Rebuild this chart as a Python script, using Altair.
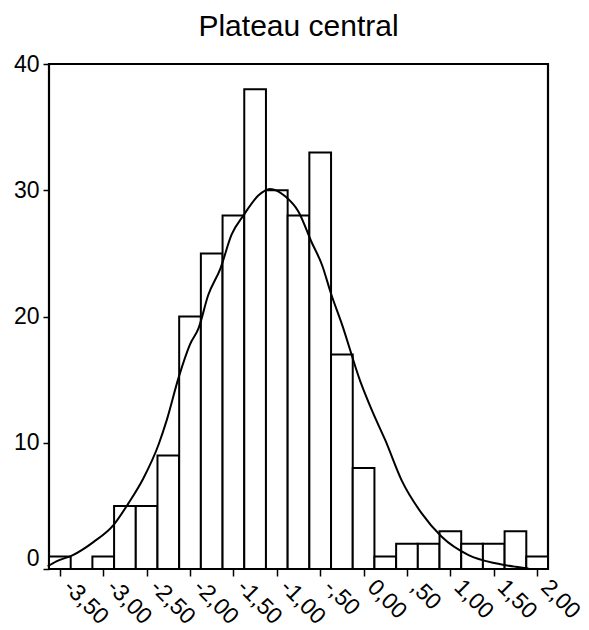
import altair as alt
import pandas as pd

# Histogram bins (centres) and counts
bin_centers = [-3.5, -3.25, -3.0, -2.75, -2.5, -2.25, -2.0, -1.75, -1.5, -1.25, -1.0,
               -0.75, -0.5, -0.25, 0.0, 0.25, 0.5, 0.75, 1.0, 1.25, 1.5, 1.75, 2.0]
counts = [1, 0, 1, 5, 5, 9, 20, 25, 28, 38, 30, 28, 33, 17, 8, 1, 2, 2, 3, 2, 2, 3, 1]
bin_width = 0.25

# Normal curve points
curve_x = [-3.64, -3.54, -3.35, -3.11, -2.88, -2.71, -2.54, -2.36, -2.27, -2.13, -2.0,
           -1.90, -1.79, -1.65, -1.52, -1.38, -1.21, -1.08, -0.90, -0.75, -0.60, -0.48,
           -0.37, -0.25, -0.04, 0.10, 0.25, 0.44, 0.67, 0.90, 1.21, 1.52, 1.75, 1.90]
curve_y = [0.2, 0.6, 1.1, 2.15, 3.5, 5.2, 7.15, 9.9, 11.75, 15.2, 17.8,
           19.1, 21.7, 23.8, 26.5, 28.05, 29.6, 30.1, 29.5, 28.3, 25.9, 24.1,
           21.7, 19.4, 14.9, 12.5, 10.2, 7.0, 4.4, 2.55, 1.1, 0.45, 0.18, 0.05]

x_tick_values = [-3.5, -3.0, -2.5, -2.0, -1.5, -1.0, -0.5, 0.0, 0.5, 1.0, 1.5, 2.0]
x_tick_labels = ["-3,50", "-3,00", "-2,50", "-2,00", "-1,50", "-1,00", "-,50", "0,00",
                 ",50", "1,00", "1,50", "2,00"]
y_tick_values = [0, 10, 20, 30, 40]

FONT = "Liberation Sans"

bars_df = pd.DataFrame({"center": bin_centers, "count": counts})
bars_df["start"] = bars_df["center"] - bin_width / 2
bars_df["end"] = bars_df["center"] + bin_width / 2
curve_df = pd.DataFrame({"x": curve_x, "y": curve_y})

label_expr = ""
for v, lab in zip(x_tick_values, x_tick_labels):
    label_expr += f"abs(datum.value - ({v})) < 0.001 ? '{lab}' : "
label_expr += "''"

x_scale = alt.Scale(domain=[-3.625, 2.125], nice=False, zero=False)
y_scale = alt.Scale(domain=[0, 40], nice=False)

x_axis = alt.Axis(values=x_tick_values, labelExpr=label_expr, title=None, grid=False,
                  domain=False, tickSize=7, tickWidth=1.5, tickColor="black",
                  labelAngle=45, labelAlign="left", labelBaseline="middle",
                  labelOverlap=False, labelBound=False, labelFlush=False,
                  labelOffset=7, labelPadding=7,
                  labelFont=FONT, labelFontSize=23, labelColor="black")
y_axis = alt.Axis(values=y_tick_values, title=None, grid=False, domain=False,
                  tickSize=6, tickWidth=1.5, tickColor="black", labelPadding=4,
                  labelOverlap=False, labelFlush=False,
                  labelFont=FONT, labelFontSize=23, labelColor="black",
                  labelOffset={"condition": {"test": "datum.value == 0", "value": -11}, "value": 0})

bars = alt.Chart(bars_df).mark_rect(fill="white", stroke="black", strokeWidth=2).encode(
    x=alt.X("start:Q", scale=x_scale, axis=x_axis),
    x2="end:Q",
    y=alt.Y("count:Q", scale=y_scale, axis=y_axis),
    y2=alt.datum(0),
)

curve = alt.Chart(curve_df).mark_line(color="black", strokeWidth=2, interpolate="monotone").encode(
    x=alt.X("x:Q", scale=x_scale),
    y=alt.Y("y:Q", scale=y_scale),
)

chart = alt.layer(bars, curve).properties(
    width=499, height=505,
    background="white",
    title=alt.TitleParams("Plateau central", font=FONT, fontSize=30, fontWeight="normal",
                          color="black", anchor="middle", frame="group", offset=11),
    autosize=alt.AutoSizeParams(type="none"),
    padding={"left": 49, "top": 64, "right": 41, "bottom": 61},
).configure_view(stroke="black", strokeWidth=2.2)

chart.save("out.html", embed_options={"renderer": "svg", "actions": False})
